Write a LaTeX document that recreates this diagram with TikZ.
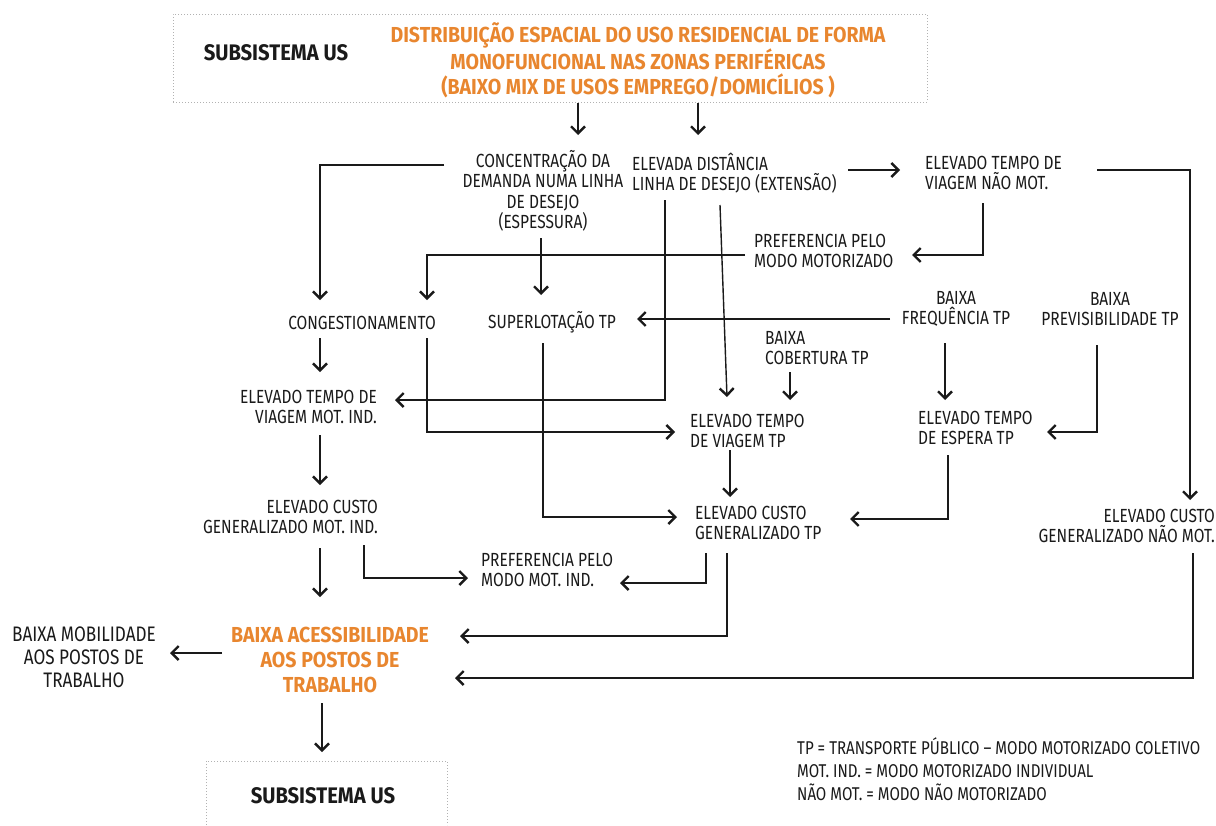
\documentclass[tikz,border=0pt]{standalone}
\usepackage{fontspec}
\setmainfont{Fira Sans}[FakeStretch=0.815, BoldFeatures={FakeStretch=0.9}]
\usetikzlibrary{arrows.meta,calc}
\definecolor{accent}{HTML}{E8862F}
\definecolor{ink}{HTML}{1A1A1A}
\begin{document}
\begin{tikzpicture}[x=1pt,y=-1pt,
  every node/.style={inner sep=0pt, text=ink},
  lbl/.style={font=\fontsize{19}{20.5}\selectfont},
  lblc/.style={lbl, align=center},
  lbll/.style={lbl, align=left, anchor=west},
  lblr/.style={lbl, align=right, anchor=east},
  hot/.style={font=\bfseries\fontsize{21.7}{24.8}\selectfont, text=accent, align=center},
  sysname/.style={font=\bfseries\fontsize{22.5}{24}\selectfont},
  framebox/.style={draw=black!30, line width=1pt, dash pattern=on 1pt off 2pt},
  arr/.style={draw=ink, line width=1.4pt, -{Straight Barb[length=7pt,width=14pt,line width=2.4pt]}},
]
\useasboundingbox (0,0) rectangle (1216,825);

% subsystem frames
\node[framebox, minimum width=754pt, minimum height=88pt] (topbox) at (550,58) {};
\draw[framebox] (206,825) |- (447,761) -- (447,825);

% texts
\node[sysname] (sub1) at (276,53) {SUBSISTEMA US};
\node[hot] (title) at (638,60) {DISTRIBUIÇÃO ESPACIAL DO USO RESIDENCIAL DE FORMA\\MONOFUNCIONAL NAS ZONAS PERIFÉRICAS\\(BAIXO MIX DE USOS EMPREGO/DOMICÍLIOS )};

\node[lblc] (conc) at (543,191) {CONCENTRAÇÃO DA\\DEMANDA NUMA LINHA\\DE DESEJO\\(ESPESSURA)};
\node[lbll] (dist) at (632,173) {ELEVADA DISTÂNCIA\\LINHA DE DESEJO (EXTENSÃO)};
\node[lbll] (tnm) at (925,173) {ELEVADO TEMPO DE\\VIAGEM NÃO MOT.};
\node[lbll] (pmm) at (754,251) {PREFERENCIA PELO\\MODO MOTORIZADO};
\node[lblc] (cong) at (362,323) {CONGESTIONAMENTO};
\node[lblc] (super) at (552,322) {SUPERLOTAÇÃO TP};
\node[lblc] (bfreq) at (956,309) {BAIXA\\FREQUÊNCIA TP};
\node[lblc] (bprev) at (1110,309) {BAIXA\\PREVISIBILIDADE TP};
\node[lbll] (bcob) at (765,348) {BAIXA\\COBERTURA TP};
\node[lblr] (tmi) at (377,407) {ELEVADO TEMPO DE\\VIAGEM MOT. IND.};
\node[lbll] (ttp) at (690,431) {ELEVADO TEMPO\\DE VIAGEM TP};
\node[lbll] (tesp) at (918,428) {ELEVADO TEMPO\\DE ESPERA TP};
\node[lblr] (cmi) at (378,517) {ELEVADO CUSTO\\GENERALIZADO MOT. IND.};
\node[lbll] (ctp) at (695,523) {ELEVADO CUSTO\\GENERALIZADO TP};
\node[lblr] (cnm) at (1215,526) {ELEVADO CUSTO\\GENERALIZADO NÃO MOT.};
\node[lbll] (pmi) at (481,570) {PREFERENCIA PELO\\MODO MOT. IND.};
\node[hot] (acc) at (330,660) {BAIXA ACESSIBILIDADE\\AOS POSTOS DE\\TRABALHO};
\node[lblc, font=\fontsize{21}{23}\selectfont] (mob) at (84,657) {BAIXA MOBILIDADE\\AOS POSTOS DE\\TRABALHO};
\node[sysname] (sub2) at (323,796) {SUBSISTEMA US};
\node[lbll, font=\fontsize{18.5}{23}\selectfont] (legend) at (797,769)
  {TP = TRANSPORTE PÚBLICO – MODO MOTORIZADO COLETIVO\\MOT. IND. = MODO MOTORIZADO INDIVIDUAL\\NÃO MOT. = MODO NÃO MOTORIZADO};

% connector ends
\coordinate (top-a) at (578,103);   \coordinate (conc-in) at (578,135);
\coordinate (top-b) at (698,103);   \coordinate (dist-in) at (698,135);
\coordinate (dist-out) at (848,170);\coordinate (tnm-in) at (900,170);
\coordinate (tnm-out) at (1097,170);\coordinate (cnm-in) at (1190,500);
\coordinate (tnm-down) at (983,203);\coordinate (pmm-in) at (912,255);
\coordinate (pmm-out) at (745,255); \coordinate (cong-in2) at (427,300);
\coordinate (conc-out1) at (444,165);\coordinate (cong-in1) at (320,300);
\coordinate (conc-out2) at (541,238);\coordinate (super-in) at (541,295);
\coordinate (bfreq-out1) at (890,319);\coordinate (super-in2) at (637,319);
\coordinate (dist-out2) at (665,200);\coordinate (tmi-in) at (395,400);
\coordinate (dist-out3) at (720,205);\coordinate (ttp-in1) at (727,397);
\coordinate (bcob-out) at (790,372);\coordinate (ttp-in2) at (790,400);
\coordinate (cong-out1) at (320,338);\coordinate (tmi-in2) at (320,372);
\coordinate (cong-out2) at (427,338);\coordinate (ttp-in3) at (675,432);
\coordinate (bfreq-out2) at (945,343);\coordinate (tesp-in1) at (945,400);
\coordinate (bprev-out) at (1097,345);\coordinate (tesp-in2) at (1047,432);
\coordinate (tmi-out) at (320,435); \coordinate (cmi-in) at (320,485);
\coordinate (super-out) at (543,343);\coordinate (ctp-in1) at (677,517);
\coordinate (ttp-out) at (730,450); \coordinate (ctp-in2) at (730,497);
\coordinate (tesp-out) at (948,455);\coordinate (ctp-in3) at (850,519);
\coordinate (cmi-out1) at (320,548);\coordinate (acc-in1) at (320,597);
\coordinate (cmi-out2) at (364,545);\coordinate (pmi-in1) at (468,578);
\coordinate (ctp-out1) at (706,553);\coordinate (pmi-in2) at (620,583);
\coordinate (ctp-out2) at (727,553);\coordinate (acc-in2) at (460,636);
\coordinate (cnm-out) at (1193,553);\coordinate (acc-in3) at (455,678);
\coordinate (acc-out1) at (222,653);\coordinate (mob-in) at (170,653);
\coordinate (acc-out2) at (322,703);\coordinate (sub2-in) at (322,752);

% connectors
\draw[arr] (top-a) -- (conc-in);
\draw[arr] (top-b) -- (dist-in);
\draw[arr] (dist-out) -- (tnm-in);
\draw[arr] (tnm-out) -| (cnm-in);
\draw[arr] (tnm-down) |- (pmm-in);
\draw[arr] (pmm-out) -| (cong-in2);
\draw[arr] (conc-out1) -| (cong-in1);
\draw[arr] (conc-out2) -- (super-in);
\draw[arr] (bfreq-out1) -- (super-in2);
\draw[arr] (dist-out2) |- (tmi-in);
\draw[arr] (dist-out3) -- (ttp-in1);
\draw[arr] (bcob-out) -- (ttp-in2);
\draw[arr] (cong-out1) -- (tmi-in2);
\draw[arr] (cong-out2) |- (ttp-in3);
\draw[arr] (bfreq-out2) -- (tesp-in1);
\draw[arr] (bprev-out) |- (tesp-in2);
\draw[arr] (tmi-out) -- (cmi-in);
\draw[arr] (super-out) |- (ctp-in1);
\draw[arr] (ttp-out) -- (ctp-in2);
\draw[arr] (tesp-out) |- (ctp-in3);
\draw[arr] (cmi-out1) -- (acc-in1);
\draw[arr] (cmi-out2) |- (pmi-in1);
\draw[arr] (ctp-out1) |- (pmi-in2);
\draw[arr] (ctp-out2) |- (acc-in2);
\draw[arr] (cnm-out) |- (acc-in3);
\draw[arr] (acc-out1) -- (mob-in);
\draw[arr] (acc-out2) -- (sub2-in);
\end{tikzpicture}
\end{document}
